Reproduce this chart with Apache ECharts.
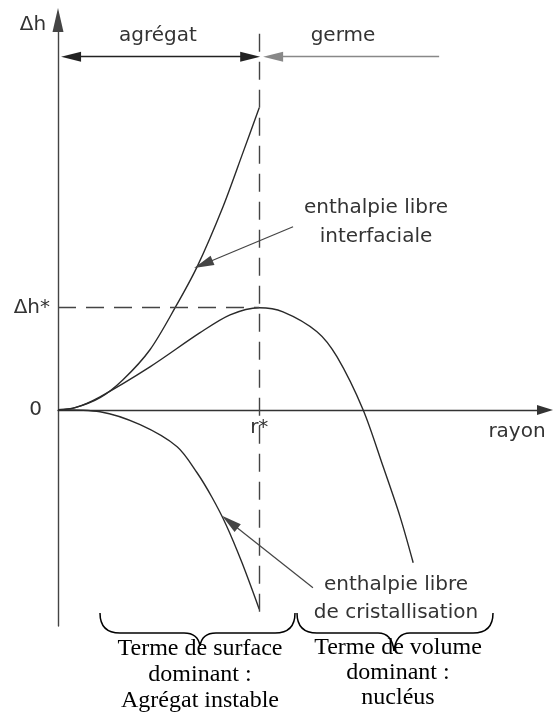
<!DOCTYPE html>
<html><head><meta charset="utf-8">
<script src="https://cdn.jsdelivr.net/npm/echarts@6/dist/echarts.min.js"></script>
<style>html,body{margin:0;padding:0;background:#fff}#c{width:555px;height:715px}</style>
</head><body><div id="c"></div>
<script>
// r / r* on x, Δh / Δh* on y
const surfaceR = [0, 0.085, 0.209, 0.323, 0.457, 0.582, 0.691, 0.820, 0.919, 1.0];
const surfaceH = [0, 0.02, 0.118, 0.294, 0.588, 1.0, 1.40, 1.99, 2.52, 2.96];
const totalR = [0, 0.085, 0.209, 0.457, 0.706, 0.855, 1.0, 1.118, 1.287, 1.386, 1.516, 1.616, 1.700, 1.765];
const totalH = [0, 0.02, 0.127, 0.42, 0.755, 0.93, 1.0, 0.96, 0.765, 0.52, 0.0, -0.56, -1.05, -1.5];
const volumeR = [0, 0.209, 0.408, 0.592, 0.691, 0.765, 0.835, 0.914, 1.0];
const volumeH = [0, -0.02, -0.147, -0.363, -0.618, -0.858, -1.127, -1.498, -1.955];
const yTickValues = [0, 1];
const yTickLabels = ['0', 'Δh*'];
const xTickValues = [1];
const xTickLabels = ['r*'];
const rStar = 1, hStar = 1;

const zip = (a, b) => a.map((v, i) => [v, b[i]]);
const SANS = 'DejaVu Sans';

const chart = echarts.init(document.getElementById('c'), null, {renderer: 'canvas'});
const curveStyle = {color: '#2a2a2a', width: 1.4};
const dash = [18, 10];

function arrowLine(from, to, color, width, symFrom, symTo) {
  return [
    {coord: from, symbol: symFrom, symbolSize: [10, 20], lineStyle: {color: color, width: width, type: 'solid'}},
    {coord: to, symbol: symTo, symbolSize: [10, 20]}
  ];
}

// curly brace (opening downward) drawn with quadratic curves and lines
function brace(x0, x1, xm, yTop, yLine, yTip) {
  const st = {fill: 'none', stroke: '#000', lineWidth: 1.5};
  const q = (a, b, c, d, e, f) => ({type: 'bezierCurve', shape: {x1: a, y1: b, cpx1: c, cpy1: d, x2: e, y2: f}, style: st, silent: true});
  const l = (a, b, c, d) => ({type: 'line', shape: {x1: a, y1: b, x2: c, y2: d}, style: st, silent: true});
  return [
    q(x0, yTop, x0, yLine, x0 + 20, yLine),
    l(x0 + 20, yLine, xm - 16, yLine),
    q(xm - 16, yLine, xm - 2, yLine, xm, yTip),
    q(xm, yTip, xm + 2, yLine, xm + 16, yLine),
    l(xm + 16, yLine, x1 - 20, yLine),
    q(x1 - 20, yLine, x1, yLine, x1, yTop)
  ];
}

chart.setOption({
  animation: false,
  backgroundColor: '#fff',
  grid: {left: 58, right: 10, top: 20, bottom: 89, containLabel: false},
  xAxis: {
    type: 'value', min: 0, max: 2.42,
    offset: -216,
    splitLine: {show: false}, axisTick: {show: false},
    axisLine: {onZero: false, lineStyle: {color: '#333', width: 1.4},
      symbol: ['none', 'triangle'], symbolSize: [10, 16]},
    axisLabel: {customValues: xTickValues, margin: 8,
      formatter: v => xTickLabels[xTickValues.indexOf(v)] || '',
      fontFamily: SANS, fontSize: 20, color: '#333'}
  },
  yAxis: {
    type: 'value', min: -2.12, max: 3.82,
    splitLine: {show: false}, axisTick: {show: false},
    axisLine: {onZero: false, lineStyle: {color: '#444', width: 1.4},
      symbol: ['none', 'triangle'], symbolSize: [11, 24]},
    axisLabel: {customValues: yTickValues, margin: 8,
      formatter: v => { const i = yTickValues.indexOf(v); return i === 0 ? '{z|' + yTickLabels[i] + '}' : '{s|' + (yTickLabels[i] || '') + '}'; },
      rich: {z: {fontFamily: SANS, fontSize: 20, color: '#333', padding: [0, 8, 0, 0]},
             s: {fontFamily: SANS, fontSize: 20, color: '#333'}},
      fontFamily: SANS, fontSize: 20, color: '#333'}
  },
  series: [
    {type: 'line', name: 'interfaciale', data: zip(surfaceR, surfaceH), showSymbol: false,
     smooth: 0.3, lineStyle: curveStyle, silent: true},
    {type: 'line', name: 'volume', data: zip(volumeR, volumeH), showSymbol: false,
     smooth: 0.3, lineStyle: curveStyle, silent: true},
    {type: 'line', name: 'total', data: zip(totalR, totalH), showSymbol: false,
     smooth: 0.3, lineStyle: curveStyle, silent: true,
     markLine: {
       silent: true, animation: false, label: {show: false},
       emphasis: {disabled: true},
       data: [
         [{coord: [0, hStar], symbol: 'none', lineStyle: {color: '#444', width: 1.4, type: dash}}, {coord: [rStar, hStar], symbol: 'none'}],
         [{coord: [rStar, 3.686], symbol: 'none', lineStyle: {color: '#444', width: 1.4, type: dash}}, {coord: [rStar, -2.04], symbol: 'none'}],
         arrowLine([0.065, 3.461], [0.955, 3.461], '#222', 1.3, 'triangle', 'triangle'),
         arrowLine([1.894, 3.461], [1.069, 3.461], '#888', 1.3, 'none', 'triangle'),
         arrowLine([1.168, 1.794], [0.722, 1.426], '#444', 1.2, 'none', 'triangle'),
         arrowLine([1.267, -1.745], [0.854, -1.100], '#444', 1.2, 'none', 'triangle')
       ]
     }}
  ],
  graphic: [
    {type: 'text', x: 33, y: 25, style: {text: 'Δh', font: '20px "DejaVu Sans"', fill: '#333', align: 'center', verticalAlign: 'middle'}},
    {type: 'text', x: 158, y: 36, style: {text: 'agrégat', font: '20px "DejaVu Sans"', fill: '#333', align: 'center', verticalAlign: 'middle'}},
    {type: 'text', x: 343, y: 36, style: {text: 'germe', font: '20px "DejaVu Sans"', fill: '#333', align: 'center', verticalAlign: 'middle'}},
    {type: 'text', x: 517, y: 432, style: {text: 'rayon', font: '20px "DejaVu Sans"', fill: '#333', align: 'center', verticalAlign: 'middle'}},
    {type: 'text', x: 376, y: 222, style: {text: 'enthalpie libre\ninterfaciale', font: '20px "DejaVu Sans"', lineHeight: 29, fill: '#333', align: 'center', verticalAlign: 'middle'}},
    {type: 'text', x: 396, y: 599, style: {text: 'enthalpie libre\nde cristallisation', font: '20px "DejaVu Sans"', lineHeight: 28, fill: '#333', align: 'center', verticalAlign: 'middle'}},
    {type: 'text', x: 200, y: 675, style: {text: 'Terme de surface\ndominant :\nAgrégat instable', font: '24px "Liberation Serif"', lineHeight: 26, fill: '#000', align: 'center', verticalAlign: 'middle'}},
    {type: 'text', x: 398, y: 673, style: {text: 'Terme de volume\ndominant :\nnucléus', font: '24px "Liberation Serif"', lineHeight: 25, fill: '#000', align: 'center', verticalAlign: 'middle'}}
  ].concat(brace(100, 295, 200, 613, 633, 646), brace(297, 493, 394, 613, 633, 651))
});
</script></body></html>
